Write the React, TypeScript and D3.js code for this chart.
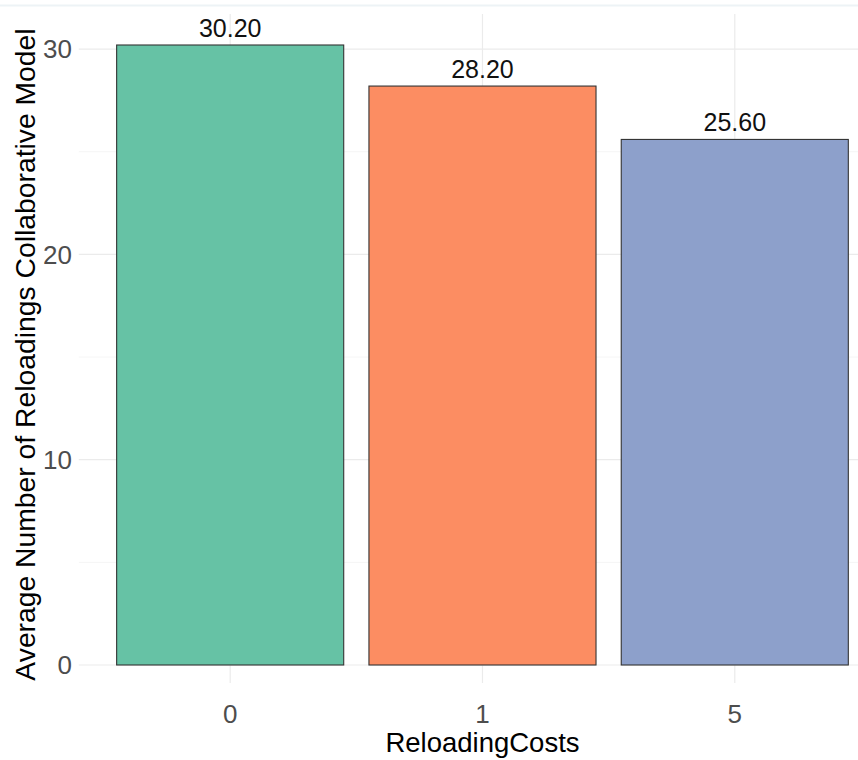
import React from "react";
import * as d3 from "d3";

const categories = ["0", "1", "5"];
const values = [30.2, 28.2, 25.6];
const barColors = ["#66C2A5", "#FC8D62", "#8DA0CB"];
const yTicks = [0, 10, 20, 30];
const yMinorTicks = [5, 15, 25];

const W = 858;
const H = 760;
const FONT = "'Liberation Sans', Arial, sans-serif";

export default function App() {
  const panelLeft = 78.8;
  const step = 252.3;
  const panelRight = panelLeft + 3.2 * step;
  const panelTop = 14;
  const panelBottom = 665;

  const x = d3.scaleLinear().domain([0.4, 3.6]).range([panelLeft, panelRight]);
  const yMax = (d3.max(values) as number) * 1.05;
  const y = d3.scaleLinear().domain([0, yMax]).range([panelBottom, panelTop]);
  const barHalf = 0.45;

  return (
    <svg
      width={W}
      height={H}
      style={{ position: "absolute", left: 0, top: 0, background: "#fff" }}
      fontFamily={FONT}
    >
      <line x1={0} x2={W} y1={5.5} y2={5.5} stroke="#edf3f6" strokeWidth={2} />
      {/* grid */}
      {yMinorTicks.map((t) => (
        <line key={"mn" + t} x1={panelLeft} x2={W} y1={y(t)} y2={y(t)} stroke="#f2f2f2" strokeWidth={0.8} />
      ))}
      {yTicks.map((t) => (
        <line key={"mj" + t} x1={panelLeft} x2={W} y1={y(t)} y2={y(t)} stroke="#ebebeb" strokeWidth={1.2} />
      ))}
      {categories.map((c, i) => (
        <line key={"vg" + c} x1={x(i + 1)} x2={x(i + 1)} y1={panelTop} y2={panelBottom + 18} stroke="#ebebeb" strokeWidth={1.2} />
      ))}
      {/* bars */}
      {values.map((v, i) => (
        <rect
          key={"b" + i}
          x={x(i + 1 - barHalf)}
          y={y(v)}
          width={x(i + 1 + barHalf) - x(i + 1 - barHalf)}
          height={y(0) - y(v)}
          fill={barColors[i]}
          stroke="#333"
          strokeWidth={1.1}
        />
      ))}
      {/* value labels */}
      {values.map((v, i) => (
        <text key={"l" + i} x={x(i + 1)} y={y(v) - 8} textAnchor="middle" fontSize={25} fill="#111">
          {d3.format(".2f")(v)}
        </text>
      ))}
      {/* y tick labels */}
      {yTicks.map((t) => (
        <text key={"yt" + t} x={72} y={y(t)} dy="0.36em" textAnchor="end" fontSize={26} fill="#4d4d4d">
          {t}
        </text>
      ))}
      {/* x tick labels */}
      {categories.map((c, i) => (
        <text key={"xt" + c} x={x(i + 1)} y={723} textAnchor="middle" fontSize={26} fill="#4d4d4d">
          {c}
        </text>
      ))}
      <text x={(panelLeft + panelRight) / 2} y={752} textAnchor="middle" fontSize={27.5} fill="#000">
        ReloadingCosts
      </text>
      <text
        transform={`translate(35, ${(panelTop + panelBottom) / 2 + 15}) rotate(-90)`}
        textAnchor="middle"
        fontSize={28.3}
        fill="#000"
      >
        Average Number of Reloadings Collaborative Model
      </text>
    </svg>
  );
}
